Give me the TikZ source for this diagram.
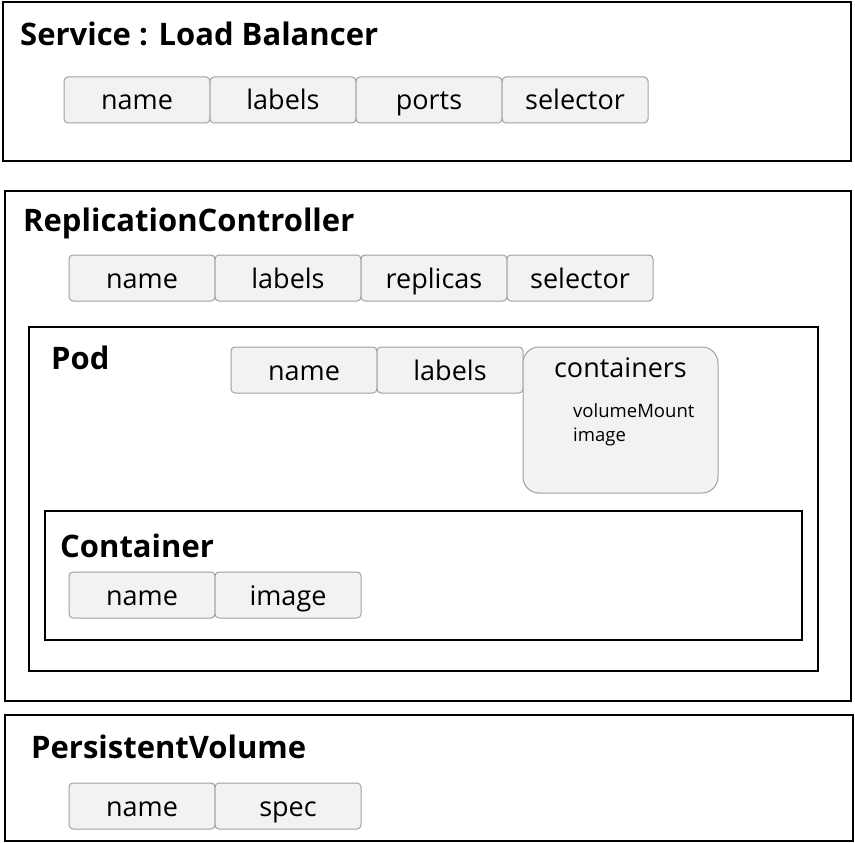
\documentclass[tikz,border=0pt]{standalone}
\usepackage{fontspec}
\setmainfont{Open Sans}
\usetikzlibrary{positioning}
\definecolor{fieldfill}{HTML}{F2F2F2}
\definecolor{fieldline}{HTML}{A0A0A0}
\tikzset{
  groupbox/.style={draw=black, line width=2pt},
  grouptitle/.style={anchor=base west, inner sep=0pt, font=\fontsize{31}{36}\selectfont\bfseries},
  fieldbox/.style={draw=fieldline, fill=fieldfill, line width=1pt, rounded corners=4pt,
    minimum width=146pt, minimum height=46pt, inner sep=0pt, outer sep=0pt,
    text height=22pt, text depth=2pt, font=\fontsize{27}{32}\selectfont},
  smalltext/.style={anchor=base west, inner sep=0pt, align=left, font=\fontsize{18.5}{24}\selectfont}
}
\begin{document}
\begin{tikzpicture}[x=1pt, y=-1pt]
\useasboundingbox (0,0) rectangle (855,843);
\fill[white] (0,0) rectangle (855,843);

\draw[groupbox] (3,2) rectangle (851,161);
\node[grouptitle] (svctitle) at (20,46) {Service : Load Balancer};
\node[fieldbox, anchor=north west] (svcname) at (64,77) {name};
\node[fieldbox, right=0pt of svcname] (svclabels) {labels};
\node[fieldbox, right=0pt of svclabels] (svcports) {ports};
\node[fieldbox, right=0pt of svcports] (svcselector) {selector};

\draw[groupbox] (5,191) rectangle (851,701);
\node[grouptitle] (rctitle) at (23,231) {ReplicationController};
\node[fieldbox, anchor=north west] (rcname) at (69,255) {name};
\node[fieldbox, right=0pt of rcname] (rclabels) {labels};
\node[fieldbox, right=0pt of rclabels] (rcreplicas) {replicas};
\node[fieldbox, right=0pt of rcreplicas] (rcselector) {selector};

\draw[groupbox] (29,327) rectangle (818,671);
\node[grouptitle] (podtitle) at (51,369) {Pod};
\node[fieldbox, anchor=north west] (podname) at (231,347) {name};
\node[fieldbox, right=0pt of podname] (podlabels) {labels};
\node[fieldbox, anchor=north west, rounded corners=16pt, minimum width=195pt, minimum height=146pt] (podctrs) at (523,347) {};
\node[anchor=base, inner sep=0pt, font=\fontsize{27}{32}\selectfont] (ctrstitle) at (620.5,377) {containers};
\node[smalltext] (ctrsitems) at (573,441) {volumeMount\\image};

\draw[groupbox] (45,511) rectangle (802,640);
\node[grouptitle] (ctrtitle) at (60,557) {Container};
\node[fieldbox, anchor=north west] (ctrname) at (69,572) {name};
\node[fieldbox, right=0pt of ctrname] (ctrimage) {image};

\draw[groupbox] (5,715) rectangle (853,841);
\node[grouptitle] (pvtitle) at (31,758) {PersistentVolume};
\node[fieldbox, anchor=north west] (pvname) at (69,783) {name};
\node[fieldbox, right=0pt of pvname] (pvspec) {spec};
\end{tikzpicture}
\end{document}
